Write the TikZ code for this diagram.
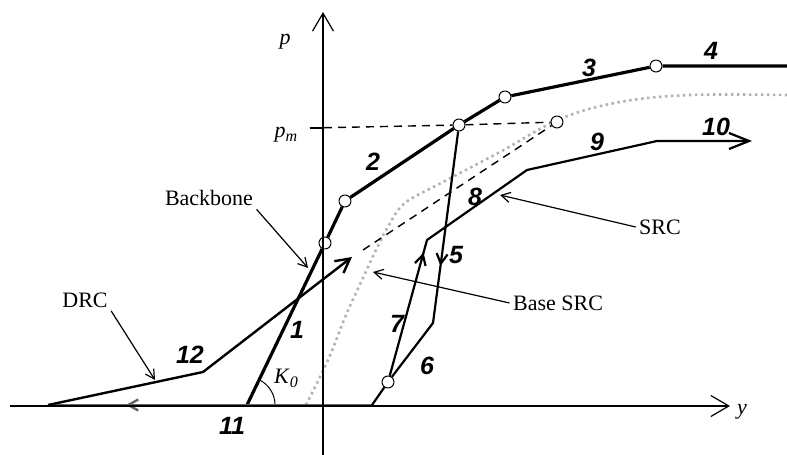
\documentclass[tikz,border=0pt]{standalone}
\usepackage{fontspec}
\setmainfont{Liberation Serif}
\newfontfamily\segfont{Liberation Sans}
\usetikzlibrary{arrows.meta, decorations.markings}
\tikzset{
    hysteresis/.style={x=1pt, y=-1pt, line join=round, font=\fontsize{22}{24}\selectfont},
    axisline/.style={line width=1.2pt, -{Straight Barb[length=18pt,width=21pt,line width=1.2pt]}},
    backbone/.style={line width=3.2pt},
    src/.style={line width=2.2pt},
    drc/.style={line width=2.4pt},
    basesrc/.style={gray!60, line width=2.6pt, dash pattern=on 2.5pt off 3.5pt},
    guide/.style={line width=1.4pt, dash pattern=on 8pt off 6pt},
    vertex/.style={circle, draw, fill=white, line width=1pt, minimum size=12pt, inner sep=0pt},
    seg/.style={font=\fontsize{25}{27}\selectfont\segfont\bfseries\itshape},
    callout/.style={line width=1.2pt, -{Straight Barb[length=9pt,width=10pt]}},
    % arrow tip set on a path at a given fraction of its length
    midarrow/.style={postaction={decorate}, decoration={markings,
        mark=at position #1 with {\arrow{Straight Barb[length=10pt,width=11pt]}}}},
}

\begin{document}
\begin{tikzpicture}[hysteresis]
    \useasboundingbox (0,0) rectangle (787,455);

    % axes
    \coordinate (o)  at (323,406);
    \coordinate (xl) at (10,406);
    \coordinate (xr) at (730,406);
    \coordinate (yb) at (323,455);
    \coordinate (yt) at (323,12);
    \coordinate (pm) at (310,128);

    % base SRC
    \draw[basesrc] plot[smooth, tension=0.6] coordinates {(306,405) (328,360) (346,315) (362,280)
        (376,250) (389,225) (405,203) (443,182) (500,152) (560,119) (620,102) (690,95) (787,95)};

    % backbone
    \coordinate (b0) at (247,405);
    \node[vertex] (b1) at (325,243) {};
    \node[vertex] (b2) at (345,201) {};
    \node[vertex] (b3) at (459,125) {};
    \node[vertex] (b4) at (505,97)  {};
    \node[vertex] (b5) at (656,66)  {};
    \coordinate (b6) at (787,66);
    \draw[backbone] (b0) -- (b1) -- (b2) -- (b3) -- (b4) -- (b5) -- (b6);
    \draw[line width=1pt] (b0) ++(28pt,0) arc[start angle=0, end angle=64, radius=28pt];

    % DRC and reloading
    \coordinate (d0) at (48,405);
    \coordinate (d1) at (203,372);
    \coordinate (d2) at (352,257);
    \coordinate (d3) at (363,250);
    \node[vertex] (m) at (557,122) {};
    \draw[black!60, line width=2.4pt, midarrow=0.76] (372,405) -- (d0);
    \draw[drc, -{Straight Barb[length=14pt,width=15pt]}] (d0) -- (d1) -- (d2);
    \draw[guide] (d3) -- (m);
    \draw[guide] (pm) -- (b3) -- (m);
    \draw[line width=1.6pt] (pm) -- (pm -| o);

    % SRC
    \coordinate (s0) at (372,405);
    \node[vertex] (s1) at (388,382) {};
    \coordinate (u1) at (433,323);
    \coordinate (s2) at (427,240);
    \coordinate (s3) at (527,170);
    \coordinate (s4) at (657,141);
    \coordinate (s5) at (752,141);
    \draw[src] (s0) -- (s1);
    \draw[src, midarrow=0.52] (b3) -- (u1) -- (s1);
    \draw[src, midarrow=0.26, -{Straight Barb[length=20pt,width=16pt]}] (s1) -- (s2) -- (s3) -- (s4) -- (s5);

    \draw[axisline] (xl) -- (xr);
    \draw[axisline] (yb) -- (yt);

    % axis labels
    \node (plab)  at (285,42)  {\textit{p}};
    \node (pmlab) at (286,135) {\textit{p}\raisebox{-4pt}{\fontsize{16}{16}\selectfont\textit{m}}};
    \node (ylab)  at (742,412) {\textit{y}};
    \node (klab)  at (286,378) {\textit{K}\raisebox{-4pt}{\fontsize{16}{16}\selectfont\textit{0}}};

    % segment numbers
    \node[seg] (n1)  at (297,330) {1};
    \node[seg] (n2)  at (373,162) {2};
    \node[seg] (n3)  at (589,68)  {3};
    \node[seg] (n4)  at (711,51)  {4};
    \node[seg] (n5)  at (456,255) {5};
    \node[seg] (n6)  at (427,366) {6};
    \node[seg] (n7)  at (397,324) {7};
    \node[seg] (n8)  at (475,197) {8};
    \node[seg] (n9)  at (597,142) {9};
    \node[seg] (n10) at (716,127) {10};
    \node[seg] (n11) at (232,426) {11};
    \node[seg] (n12) at (190,355) {12};

    % callouts
    \node (bblab)  at (209,198) {Backbone};
    \node (drclab) at (85,300)  {DRC};
    \node (srclab) at (660,227) {SRC};
    \node (baselab) at (558,303) {Base SRC};
    \coordinate (bbtip)   at (308,268);
    \coordinate (drctip)  at (155,380);
    \coordinate (srctip)  at (500,195);
    \coordinate (basetip) at (373,272);
    \draw[callout] (bblab.south east) -- (bbtip);
    \draw[callout] (drclab.south east) -- (drctip);
    \draw[callout] (srclab.west) -- (srctip);
    \draw[callout] (baselab.west) -- (basetip);
\end{tikzpicture}
\end{document}
